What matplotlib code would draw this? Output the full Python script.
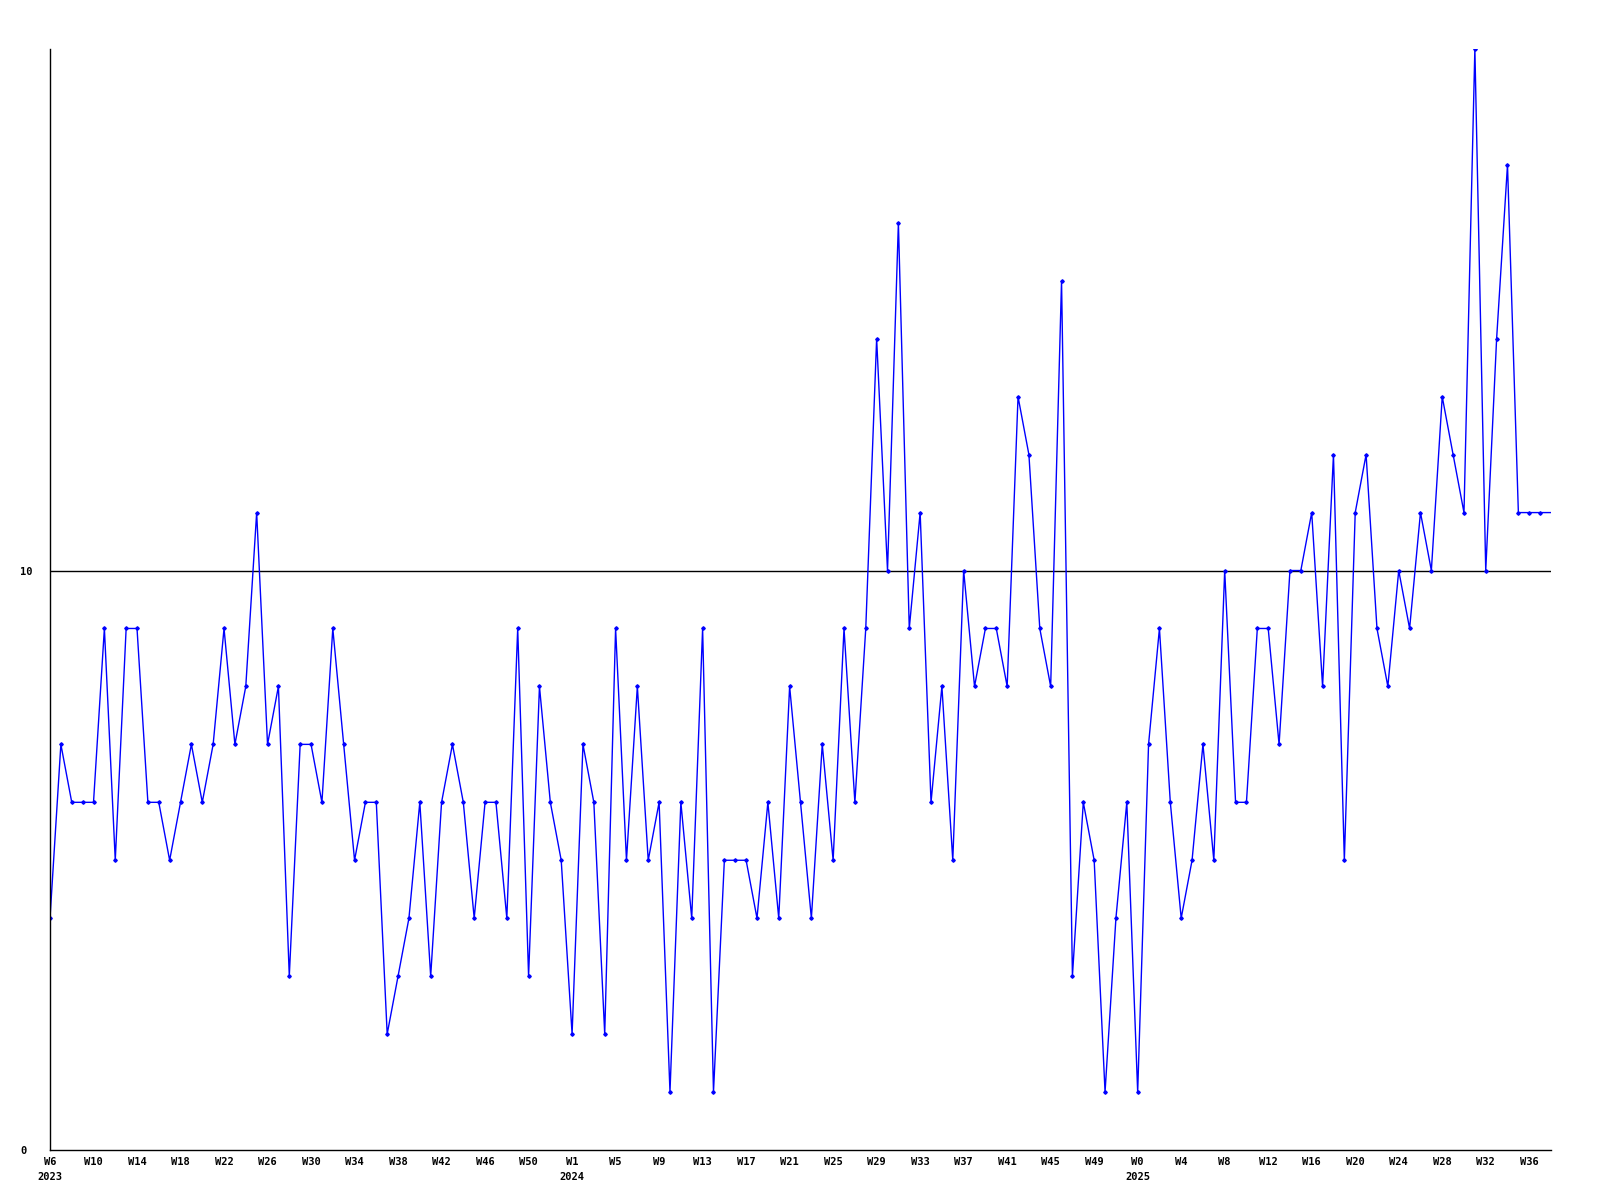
import matplotlib
matplotlib.use("Agg")
import matplotlib.pyplot as plt

values = [4, 7, 6, 6, 6, 9, 5, 9, 9, 6, 6, 5, 6, 7, 6, 7, 9, 7, 8,
          11, 7, 8, 3, 7, 7, 6, 9, 7, 5, 6, 6, 2, 3, 4, 6, 3, 6,
          7, 6, 4, 6, 6, 4, 9, 3, 8, 6, 5, 2, 7, 6, 2, 9, 5, 8, 5,
          6, 1, 6, 4, 9, 1, 5, 5, 5, 4, 6, 4, 8, 6, 4, 7, 5, 9,
          6, 9, 14, 10, 16, 9, 11, 6, 8, 5, 10, 8, 9, 9, 8, 13, 12, 9, 8,
          15, 3, 6, 5, 1, 4, 6, 1, 7, 9, 6, 4, 5, 7, 5, 10, 6, 6,
          9, 9, 7, 10, 10, 11, 8, 12, 5, 11, 12, 9, 8, 10, 9, 11, 10, 13,
          12, 11, 19, 10, 14, 17, 11, 11, 11, 11]

tick_labels = ["W6\n2023", "W10", "W14", "W18", "W22", "W26", "W30", "W34", "W38",
               "W42", "W46", "W50", "W1\n2024", "W5", "W9", "W13", "W17", "W21",
               "W25", "W29", "W33", "W37", "W41", "W45", "W49", "W0\n2025", "W4",
               "W8", "W12", "W16", "W20", "W24", "W28", "W32", "W36"]
y_ticks = [0, 10]

fig = plt.figure(figsize=(16, 12), dpi=100)
ax = fig.add_axes([50 / 1600, 1 - 1150 / 1200, 1501 / 1600, 1101 / 1200])

x = list(range(len(values)))
ax.plot(x, values, color="#0000ff", lw=1.0, marker="D", markersize=1.8,
        markerfacecolor="#0000ff", markeredgecolor="#0000ff",
        markevery=list(range(len(values) - 1)))
ax.axhline(10, color="black", lw=1.0, zorder=0)

ax.set_xlim(0, len(values) - 1)
ax.set_ylim(0, 19)

ax.set_xticks([4 * i for i in range(len(tick_labels))])
ax.set_xticklabels(tick_labels, fontfamily="DejaVu Sans Mono", fontweight="bold",
                   fontsize=7.5, linespacing=1.6)
ax.set_yticks(y_ticks)
ax.set_yticklabels([str(v) for v in y_ticks], fontfamily="DejaVu Sans Mono",
                   fontweight="bold", fontsize=7.5, ha="left")
ax.tick_params(axis="both", length=0)
ax.tick_params(axis="y", pad=21.6)
ax.tick_params(axis="x", pad=5)

for s in ["top", "right"]:
    ax.spines[s].set_visible(False)
for s in ["left", "bottom"]:
    ax.spines[s].set_color("black")
    ax.spines[s].set_linewidth(1.0)

fig.savefig("out.png", dpi=100, facecolor="white")
